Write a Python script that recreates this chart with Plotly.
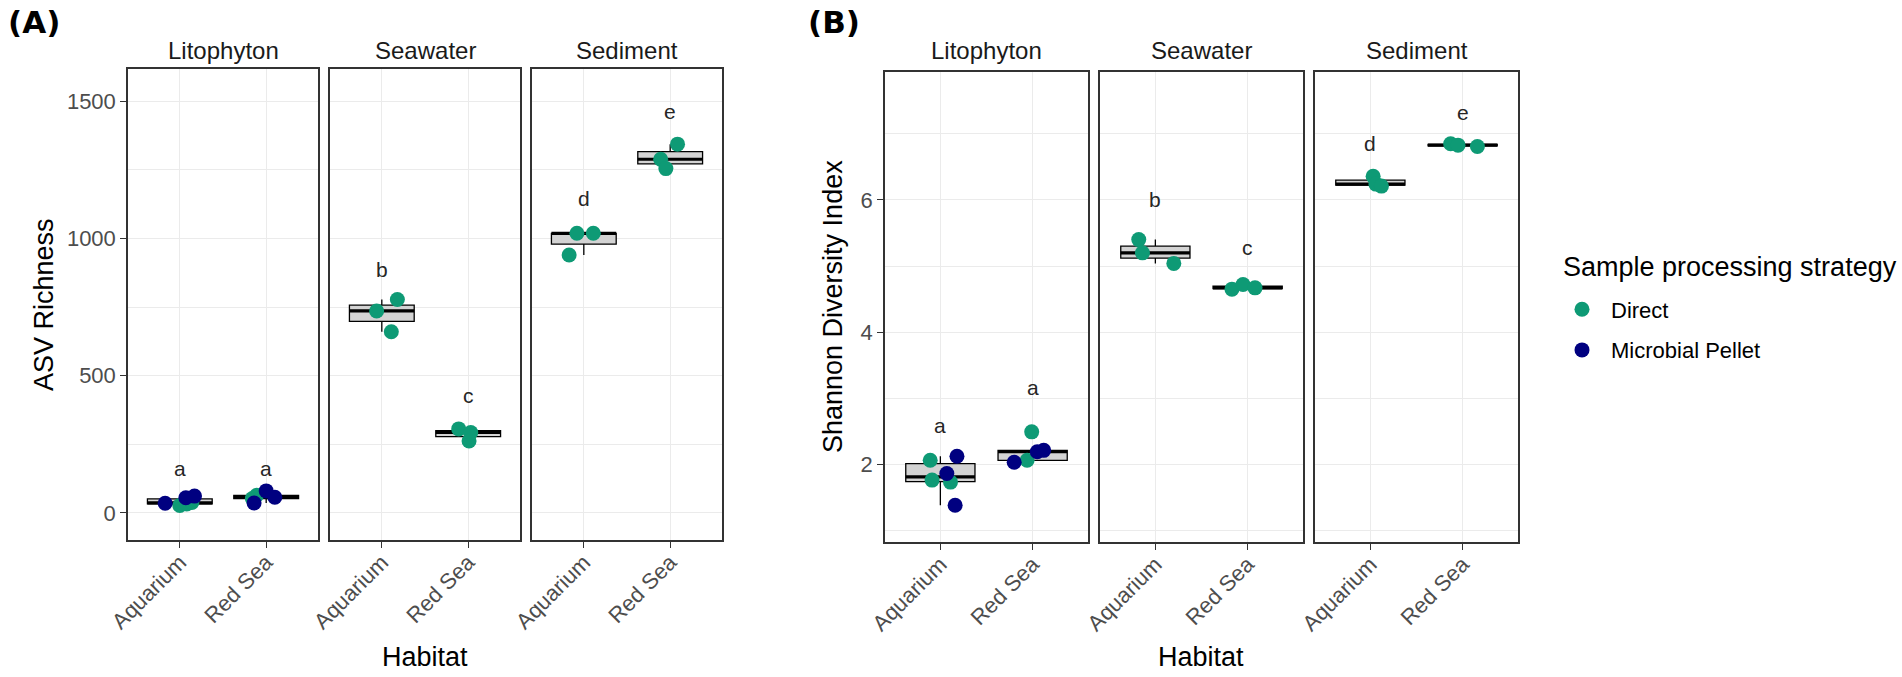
import numpy as np
import plotly.graph_objects as go

habitats = ["Litophyton", "Seawater", "Sediment"]
sites = ["Aquarium", "Red Sea"]
strategies = ["Direct", "Microbial Pellet"]

# groups in order: Lito-Aq, Lito-RS, Sea-Aq, Sea-RS, Sed-Aq, Sed-RS
asv_direct = [[27, 32, 38], [52, 64], [736, 778, 660], [306, 293, 262], [940, 1019, 1019], [1344, 1289, 1255]]
asv_pellet = [[35, 55, 61], [36, 57, 80], [], [], [], []]
asv_letters = ["a", "a", "b", "c", "d", "e"]
asv_letter_y = [162, 162, 888, 429, 1146, 1462]

shannon_direct = [[2.06, 1.76, 1.73], [2.49, 2.06], [5.40, 5.20, 5.04], [4.65, 4.72, 4.67], [6.36, 6.24, 6.21], [6.85, 6.83, 6.81]]
shannon_pellet = [[2.12, 1.86, 1.38], [2.03, 2.19, 2.21], [], [], [], []]
shannon_letters = ["a", "a", "b", "c", "d", "e"]
shannon_letter_y = [2.59, 3.16, 6.0, 5.28, 6.86, 7.32]

# horizontal jitter of each point (as seen in the figure)
asv_direct_jit = [[0.0, 0.08, 0.14], [-0.16, -0.11], [-0.06, 0.18, 0.11], [-0.11, 0.03, 0.01], [-0.17, -0.08, 0.11], [0.085, -0.11, -0.05]]
asv_pellet_jit = [[-0.17, 0.07, 0.17], [-0.14, 0.10, 0.0], [], [], [], []]
shannon_direct_jit = [[-0.11, -0.09, 0.11], [-0.01, -0.06], [-0.18, -0.14, 0.2], [-0.17, -0.05, 0.08], [0.03, 0.06, 0.12], [-0.13, -0.05, 0.16]]
shannon_pellet_jit = [[0.18, 0.07, 0.16], [-0.2, 0.05, 0.12], [], [], [], []]

W, H = 1902, 677
GREEN = "#0E9A75"
NAVY = "#000080"
FONT = "Liberation Sans, Arial, sans-serif"

# facet pixel boxes
facets_x = [[(128, 318), (330, 520), (532, 722)],
            [(885, 1088), (1100, 1303), (1315, 1518)]]
panel_y = [(69, 540), (72, 542)]
y_ranges = [[-99, 1618], [0.823, 7.937]]
y_dticks = [500, 2]

fig = go.Figure()
annotations = []


def px_x(v):
    return v / W


def px_y(v):
    return 1 - v / H


def box_stats(vals):
    v = np.sort(np.array(vals, dtype=float))
    q1, med, q3 = np.percentile(v, [25, 50, 75])
    iqr = q3 - q1
    lo = v[v >= q1 - 1.5 * iqr].min()
    hi = v[v <= q3 + 1.5 * iqr].max()
    return q1, med, q3, lo, hi


shown = set()


def build_panel(p, direct, pellet, djit, pjit, letters, letter_y):
    for h in range(3):
        k = p * 3 + h + 1
        xa = "x" if k == 1 else "x%d" % k
        ya = "y" if k == 1 else "y%d" % k
        for s in range(2):
            g = h * 2 + s
            c = s + 1
            allv = direct[g] + pellet[g]
            q1, med, q3, lo, hi = box_stats(allv)
            fig.add_trace(go.Box(
                x=[c], q1=[q1], median=[med], q3=[q3], lowerfence=[lo], upperfence=[hi],
                width=0.75, whiskerwidth=0, fillcolor="#D3D3D3",
                line=dict(color="black", width=1.3), boxpoints=False,
                showlegend=False, hoverinfo="skip", xaxis=xa, yaxis=ya))
            fig.add_trace(go.Scatter(
                x=[c - 0.375, c + 0.375], y=[med, med], mode="lines",
                line=dict(color="black", width=3.2), showlegend=False,
                hoverinfo="skip", xaxis=xa, yaxis=ya))
            for name, vals, jit, col in [(strategies[0], direct[g], djit[g], GREEN),
                                         (strategies[1], pellet[g], pjit[g], NAVY)]:
                if not vals:
                    continue
                fig.add_trace(go.Scatter(
                    x=[c + j for j in jit], y=vals, mode="markers",
                    marker=dict(color=col, size=15),
                    name=name, legendgroup=name,
                    showlegend=name not in shown, xaxis=xa, yaxis=ya))
                shown.add(name)
            annotations.append(dict(
                x=c, y=letter_y[g], xref=xa, yref=ya, text=letters[g],
                xanchor="center", yanchor="middle",
                showarrow=False, font=dict(family=FONT, size=21, color="#262626")))

        x0, x1 = facets_x[p][h]
        y0, y1 = panel_y[p]
        fig.layout["xaxis%d" % k] = dict(
            domain=[px_x(x0), px_x(x1)], anchor=ya, range=[0.4, 2.6], automargin=False,
            tickvals=[1, 2], ticktext=sites, tickangle=-45, ticklabelstandoff=-7,
            showgrid=True, gridcolor="#EBEBEB", gridwidth=1.3, zeroline=False,
            showline=True, mirror=True, linecolor="#333333", linewidth=1.5,
            ticks="outside", ticklen=6, tickcolor="#333333",
            tickfont=dict(family=FONT, size=22, color="#4D4D4D"))
        fig.layout["yaxis%d" % k] = dict(
            domain=[px_y(y1), px_y(y0)], anchor=xa, range=y_ranges[p], automargin=False,
            tick0=0, dtick=y_dticks[p],
            minor=dict(dtick=y_dticks[p] / 2, showgrid=True, gridcolor="#EBEBEB", gridwidth=0.9),
            showgrid=True, gridcolor="#EBEBEB", gridwidth=1.3, zeroline=False,
            showline=True, mirror=True, linecolor="#333333", linewidth=1.5,
            showticklabels=(h == 0), ticks="outside" if h == 0 else "",
            ticklen=6, tickcolor="#333333",
            tickfont=dict(family=FONT, size=22, color="#4D4D4D"))
        annotations.append(dict(
            x=px_x((x0 + x1) / 2), y=px_y(50), xref="paper", yref="paper",
            xanchor="center", yanchor="middle",
            text=habitats[h], showarrow=False,
            font=dict(family=FONT, size=24, color="#1A1A1A")))


build_panel(0, asv_direct, asv_pellet, asv_direct_jit, asv_pellet_jit, asv_letters, asv_letter_y)
build_panel(1, shannon_direct, shannon_pellet, shannon_direct_jit, shannon_pellet_jit,
            shannon_letters, shannon_letter_y)

# axis titles, legend title and panel tags
annotations += [
    dict(x=px_x(44), y=px_y(305), text="ASV Richness", textangle=-90, xanchor="center"),
    dict(x=px_x(833), y=px_y(307), text="Shannon Diversity Index", textangle=-90, xanchor="center"),
    dict(x=px_x(425), y=px_y(657), text="Habitat", xanchor="center"),
    dict(x=px_x(1201), y=px_y(657), text="Habitat", xanchor="center"),
    dict(x=px_x(1561), y=px_y(267), text="Sample processing strategy", xanchor="left"),
]
for a in annotations[-5:]:
    a.update(xref="paper", yref="paper", showarrow=False, yanchor="middle",
             font=dict(family=FONT, size=27, color="black"))
annotations += [
    dict(x=px_x(6), y=px_y(22), text="<b>(A)</b>"),
    dict(x=px_x(806), y=px_y(22), text="<b>(B)</b>"),
]
for a in annotations[-2:]:
    a.update(xref="paper", yref="paper", showarrow=False, xanchor="left", yanchor="middle",
             font=dict(family="DejaVu Sans", size=31, color="black"))

fig.update_layout(
    width=W, height=H,
    margin=dict(l=0, r=0, t=0, b=0, pad=0, autoexpand=False),
    plot_bgcolor="white", paper_bgcolor="white",
    annotations=annotations,
    legend=dict(
        x=px_x(1553), y=px_y(330), xanchor="left", yanchor="middle",
        font=dict(family=FONT, size=22, color="black"),
        itemwidth=48, tracegroupgap=9, bgcolor="rgba(0,0,0,0)"),
)

# drop the default body margin so the figure sits at the window's corner
fig.write_html("out.html", config={"displayModeBar": False},
               post_script="document.body.style.margin = '0px';")
